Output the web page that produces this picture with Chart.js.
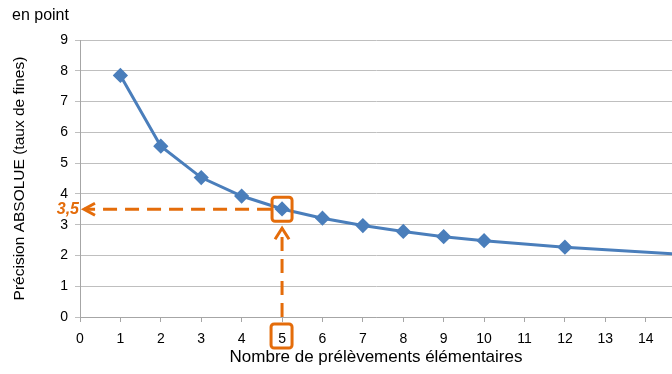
<!DOCTYPE html>
<html><head><meta charset="utf-8">
<script src="https://cdn.jsdelivr.net/npm/chart.js@4/dist/chart.umd.min.js"></script>
<style>html,body{margin:0;padding:0;background:#fff}#wrap{width:672px;height:374px}</style>
</head><body><div id="wrap"><canvas id="c"></canvas></div>
<script>
const samples = [1, 2, 3, 4, 5, 6, 7, 8, 9, 10, 12, 15];
const precision = [7.85, 5.55, 4.53, 3.93, 3.51, 3.21, 2.97, 2.78, 2.61, 2.48, 2.27, 2.03];
const yTicks = [0, 1, 2, 3, 4, 5, 6, 7, 8, 9];
const highlightX = 5;
const highlightY = 3.5;
const highlightLabel = '3,5';
const unitLabel = 'en point';
const xTitle = 'Nombre de prélèvements élémentaires';
const yTitle = 'Précision ABSOLUE (taux de fines)';

const ORANGE = '#E46C0A';
const BLUE = '#4A7EBB';
const FONT = "'Liberation Sans', Arial, sans-serif";

const annot = {
  id: 'annot',
  afterDatasetsDraw(chart) {
    const ctx = chart.ctx, xs = chart.scales.x, ys = chart.scales.y;
    const px = xs.getPixelForValue(highlightX), py = ys.getPixelForValue(highlightY);
    const x0 = xs.getPixelForValue(0) + 4;
    ctx.save();
    ctx.strokeStyle = ORANGE; ctx.lineWidth = 3;
    ctx.setLineDash([14, 8]);
    ctx.beginPath(); ctx.moveTo(px - 11, py); ctx.lineTo(x0, py); ctx.stroke();
    ctx.beginPath(); ctx.moveTo(px, ys.bottom); ctx.lineTo(px, py + 19); ctx.stroke();
    ctx.setLineDash([]);
    ctx.lineJoin = 'miter';
    ctx.beginPath(); ctx.moveTo(x0 + 11, py - 6); ctx.lineTo(x0, py); ctx.lineTo(x0 + 11, py + 6); ctx.stroke();
    ctx.beginPath(); ctx.moveTo(px - 7, py + 30); ctx.lineTo(px, py + 19); ctx.lineTo(px + 7, py + 30); ctx.stroke();
    ctx.beginPath(); ctx.roundRect(px - 10, py - 12, 20, 24, 3); ctx.stroke();
    ctx.beginPath(); ctx.roundRect(px - 11, ys.bottom + 7, 21, 24, 3); ctx.stroke();
    ctx.fillStyle = ORANGE; ctx.font = "italic bold 16px " + FONT;
    ctx.textAlign = 'right'; ctx.textBaseline = 'middle';
    ctx.fillText(highlightLabel, xs.left - 1, py + 0.5);
    ctx.fillStyle = '#000'; ctx.font = "16px " + FONT;
    ctx.textAlign = 'left'; ctx.textBaseline = 'middle';
    ctx.fillText(unitLabel, 12, 16);
    ctx.restore();
  }
};

new Chart(document.getElementById('c'), {
  type: 'line',
  data: {
    datasets: [{
      data: samples.map((s, i) => ({x: s, y: precision[i]})),
      borderColor: BLUE, backgroundColor: BLUE, borderWidth: 3,
      pointStyle: 'rectRot', pointRadius: 5.5, pointHoverRadius: 5.5,
      tension: 0
    }]
  },
  options: {
    responsive: true, maintainAspectRatio: false, animation: false,
    layout: {autoPadding: false, padding: {left: 0, right: 0, top: 40, bottom: 0}},
    plugins: {legend: {display: false}, tooltip: {enabled: false}},
    scales: {
      x: {
        type: 'linear', min: 0, max: 14.65,
        ticks: {stepSize: 1, includeBounds: false, color: '#000', font: {family: FONT, size: 14}, padding: 9, maxRotation: 0, autoSkip: false},
        grid: {drawOnChartArea: false, color: '#a6a6a6', tickLength: 5},
        border: {color: '#a6a6a6', width: 1},
        title: {display: true, text: xTitle, color: '#000', font: {family: FONT, size: 17}, padding: {top: 0, bottom: 6}},
        afterFit(s) { s.height = 57; s.paddingLeft = 0; s.paddingRight = 0; }
      },
      y: {
        min: 0, max: 9,
        afterBuildTicks(s) { s.ticks = yTicks.map(v => ({value: v})); },
        ticks: {color: '#000', font: {family: FONT, size: 14}, padding: 7},
        grid: {color: '#bfbfbf', tickLength: 5, lineWidth: 1},
        border: {color: '#a6a6a6', width: 1},
        title: {display: true, text: yTitle, color: '#000', font: {family: FONT, size: 15.5}, padding: {top: 10, bottom: 0}},
        afterFit(s) { s.width = 80; s.paddingTop = 0; s.paddingBottom = 0; }
      }
    }
  },
  plugins: [annot]
});
</script></body></html>
